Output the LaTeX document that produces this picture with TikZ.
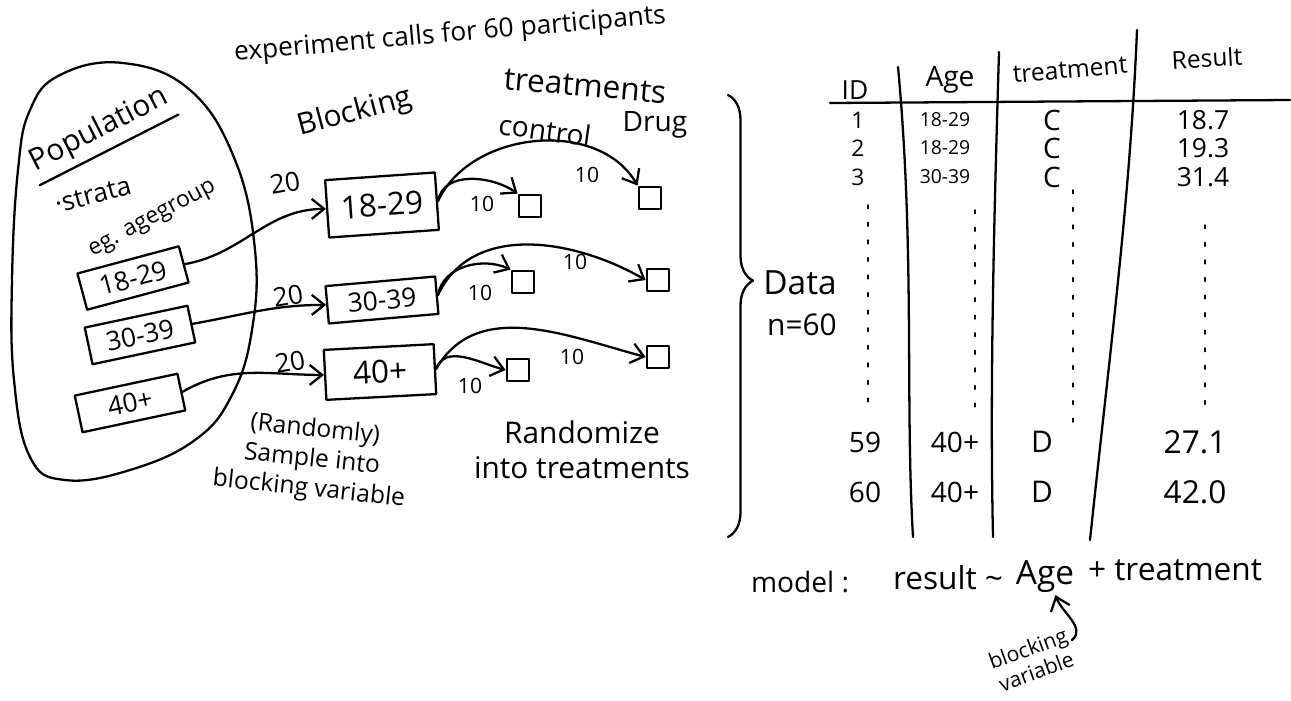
\documentclass[tikz,border=0pt]{standalone}
\usepackage{fontspec}
\setmainfont{Open Sans}
\usetikzlibrary{arrows.meta,decorations.pathreplacing}
\tikzset{
  pen/.style={line width=1.3pt, line cap=round, line join=round},
  hand/.style={font=\fontsize{#1}{\numexpr#1*6/5\relax}\selectfont, inner sep=1pt},
  strbox/.style={draw, pen, hand=15, minimum width=2.1cm, minimum height=0.75cm},
  blkbox/.style={draw, pen, hand=18, minimum width=2.2cm},
  tbox/.style={draw, pen, minimum size=0.45cm, inner sep=0pt},
  cnt/.style={hand=12},
  dots/.style={pen, line width=1pt, dash pattern=on 2pt off 8pt}
}
\begin{document}
\begin{tikzpicture}[x=0.02cm, y=-0.02cm, >={Straight Barb[length=2.5mm,width=4mm]}]
\useasboundingbox (0,0) rectangle (1291,700);

\node[hand=15, rotate=5] (title) at (450,35) {experiment calls for 60 participants};

\draw[pen] plot[smooth cycle, tension=0.7] coordinates {(30,110) (60,75) (123,63) (190,90) (235,160) (255,250) (252,330) (232,395) (195,440) (130,470) (65,480) (30,457) (14,380) (12,280) (18,170)};
\node[hand=17, rotate=27, inner ysep=4pt] (pop) at (99,130) {Population};
\draw[pen] (pop.south west) -- (pop.south east);
\node[hand=15, rotate=15] (strata) at (93,195) {·strata};
\node[hand=13, rotate=28] (eg) at (153,220) {eg. agegroup};

\node[strbox, rotate=15] (s1) at (133,278) {18-29};
\node[strbox, rotate=12] (s2) at (140,335) {30-39};
\node[strbox, rotate=12] (s3) at (130,403) {40+};

\node[hand=17, rotate=15] (blocking) at (355,113) {Blocking};
\node[blkbox, rotate=4, minimum height=1.15cm] (b1) at (382,205) {18-29};
\node[blkbox, rotate=5, minimum height=0.75cm, hand=15] (b2) at (382,300) {30-39};
\node[blkbox, rotate=3, minimum height=1.0cm] (b3) at (380,372) {40+};

\draw[pen,->] (s1.east) to[out=10,in=180] (b1.west);
\draw[pen,->] (s2.east) to[out=10,in=180] (b2.west);
\draw[pen,->] (s3.east) to[out=30,in=180] (b3.west);
\node[hand=15, rotate=10] (n1) at (285,183) {20};
\node[hand=15, rotate=10] (n2) at (288,296) {20};
\node[hand=15, rotate=10] (n3) at (290,362) {20};

\node[hand=18, rotate=-5] (treat) at (585,86) {treatments};
\node[hand=16, rotate=-8] (ctl) at (545,130) {control};
\node[hand=16] (drug) at (655,125) {Drug};

\node[tbox] (c1) at (530,206) {};
\node[tbox] (d1) at (650,198) {};
\node[tbox] (c2) at (523,282) {};
\node[tbox] (d2) at (658,280) {};
\node[tbox] (c3) at (518,370) {};
\node[tbox] (d3) at (658,357) {};

\draw[pen,->] (b1.east) to[out=80,in=145] (c1.north west);
\draw[pen,->] (b1.east) to[out=65,in=120] (d1.north west);
\draw[pen,->] (b2.east) to[out=80,in=155] (c2.north west);
\draw[pen,->] (b2.east) to[out=65,in=150] (d2.west);
\draw[pen,->] (b3.east) to[out=70,in=165] (c3.west);
\draw[pen,->] (b3.east) to[out=60,in=165] (d3.west);
\node[cnt] (t1) at (482,204) {10};
\node[cnt] (t2) at (587,175) {10};
\node[cnt] (t3) at (480,293) {10};
\node[cnt] (t4) at (575,262) {10};
\node[cnt] (t5) at (470,386) {10};
\node[cnt] (t6) at (572,357) {10};

\node[hand=14, align=center, rotate=-6] (sample) at (312,460) {(Randomly)\\Sample into\\blocking variable};
\node[hand=17, align=center] (rand) at (582,450) {Randomize\\into treatments};

\draw[pen, decorate, decoration={brace, amplitude=0.5cm, aspect=0.42}] (728,95) -- (728,537);
\node[hand=19] (data) at (800,283) {Data};
\node[hand=17] (nsize) at (802,325) {n=60};

\node[hand=15] (hid) at (855,90) {ID};
\node[hand=16] (hage) at (950,80) {Age};
\node[hand=14, rotate=5] (htreat) at (1070,70) {treatment};
\node[hand=14, rotate=3] (hres) at (1207,58) {Result};
\draw[pen] (830,103) -- (1290,100);
\draw[pen] (898,67) .. controls (915,250) and (905,400) .. (913,537);
\draw[pen] (999,52) .. controls (993,250) and (990,400) .. (993,537);
\draw[pen] (1137,30) .. controls (1130,200) and (1110,350) .. (1090,540);

\foreach \y/\id/\age/\tr/\res in {120/1/18-29/C/18.7, 148/2/18-29/C/19.3, 177/3/30-39/C/31.4}
  {
  \node[hand=13] (id\id) at (858,\y) {\id};
  \node[hand=11] (age\id) at (945,\y) {\age};
  \node[hand=16] (tr\id) at (1052,\y) {\tr};
  \node[hand=15] (res\id) at (1203,\y) {\res};
  }
\foreach \x/\ya/\yb in {868/205/415, 975/210/415, 1073/190/425, 1205/225/410}
  \draw[dots] (\x,\ya) -- (\x,\yb);
\foreach \y/\id/\res in {442/59/27.1, 492/60/42.0}
  {
  \node[hand=16] (id\id) at (865,\y) {\id};
  \node[hand=16] (age\id) at (955,\y) {40+};
  \node[hand=17] (tr\id) at (1042,\y) {D};
  \node[hand=18] (res\id) at (1195,\y) {\res};
  }

\node[hand=16] (model) at (800,582) {model :};
\node[hand=18] (resul) at (948,578) {result \textasciitilde};
\node[hand=19] (age) at (1045,577) {Age};
\node[hand=18] (rest) at (1175,570) {+ treatment};

\node[hand=12, rotate=20, align=center] (bv) at (1032,660) {blocking\\variable};
\coordinate (bvtail) at (1072,640);
\draw[pen,->] (bvtail) to[out=40,in=-70] (age.-60);
\end{tikzpicture}
\end{document}
